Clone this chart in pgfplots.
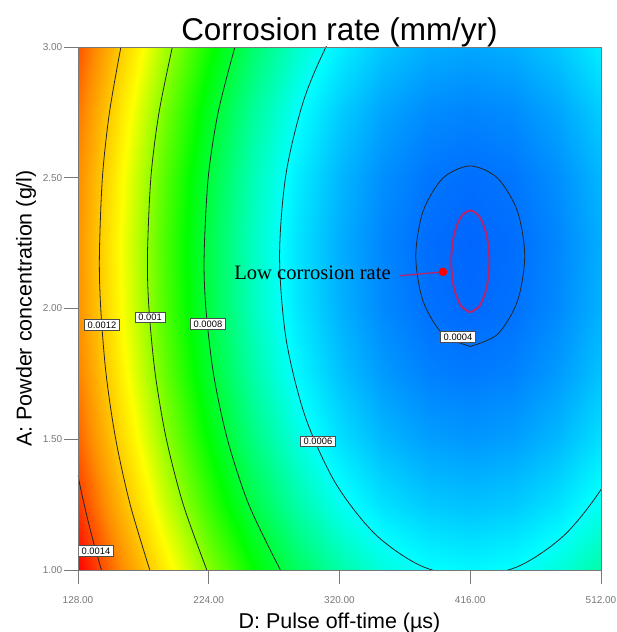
\documentclass[border=0pt]{standalone}
\usepackage{fontspec}
\setmainfont{Liberation Sans}
\newfontfamily\serifont{Liberation Serif}
\usepackage{pgfplots}
\pgfplotsset{compat=1.18}
\usepackage{pgfplotstable}

\definecolor{tickgray}{RGB}{120,120,120}
\definecolor{ringred}{RGB}{185,35,105}

% corrosion rate (mm/yr) on a 13 x 9 grid, read off the colour field and contours
\pgfplotstableread{
x y f
128 1.00 0.0015140
160 1.00 0.0013202
192 1.00 0.0011493
224 1.00 0.0010011
256 1.00 0.0008757
288 1.00 0.0007732
320 1.00 0.0006934
352 1.00 0.0006364
384 1.00 0.0006022
416 1.00 0.0005908
448 1.00 0.0006022
480 1.00 0.0006364
512 1.00 0.0006934
128 1.25 0.0014361
160 1.25 0.0012423
192 1.25 0.0010714
224 1.25 0.0009232
256 1.25 0.0007978
288 1.25 0.0006953
320 1.25 0.0006155
352 1.25 0.0005585
384 1.25 0.0005243
416 1.25 0.0005129
448 1.25 0.0005243
480 1.25 0.0005585
512 1.25 0.0006155
128 1.50 0.0013763
160 1.50 0.0011825
192 1.50 0.0010116
224 1.50 0.0008634
256 1.50 0.0007380
288 1.50 0.0006355
320 1.50 0.0005557
352 1.50 0.0004987
384 1.50 0.0004645
416 1.50 0.0004531
448 1.50 0.0004645
480 1.50 0.0004987
512 1.50 0.0005557
128 1.75 0.0013346
160 1.75 0.0011408
192 1.75 0.0009699
224 1.75 0.0008217
256 1.75 0.0006963
288 1.75 0.0005938
320 1.75 0.0005140
352 1.75 0.0004570
384 1.75 0.0004228
416 1.75 0.0004114
448 1.75 0.0004228
480 1.75 0.0004570
512 1.75 0.0005140
128 2.00 0.0013110
160 2.00 0.0011172
192 2.00 0.0009463
224 2.00 0.0007981
256 2.00 0.0006727
288 2.00 0.0005702
320 2.00 0.0004904
352 2.00 0.0004334
384 2.00 0.0003992
416 2.00 0.0003878
448 2.00 0.0003992
480 2.00 0.0004334
512 2.00 0.0004904
128 2.25 0.0013056
160 2.25 0.0011118
192 2.25 0.0009409
224 2.25 0.0007927
256 2.25 0.0006673
288 2.25 0.0005648
320 2.25 0.0004850
352 2.25 0.0004280
384 2.25 0.0003938
416 2.25 0.0003824
448 2.25 0.0003938
480 2.25 0.0004280
512 2.25 0.0004850
128 2.50 0.0013183
160 2.50 0.0011245
192 2.50 0.0009536
224 2.50 0.0008054
256 2.50 0.0006800
288 2.50 0.0005775
320 2.50 0.0004977
352 2.50 0.0004407
384 2.50 0.0004065
416 2.50 0.0003951
448 2.50 0.0004065
480 2.50 0.0004407
512 2.50 0.0004977
128 2.75 0.0013491
160 2.75 0.0011553
192 2.75 0.0009844
224 2.75 0.0008362
256 2.75 0.0007108
288 2.75 0.0006083
320 2.75 0.0005285
352 2.75 0.0004715
384 2.75 0.0004373
416 2.75 0.0004259
448 2.75 0.0004373
480 2.75 0.0004715
512 2.75 0.0005285
128 3.00 0.0013980
160 3.00 0.0012042
192 3.00 0.0010333
224 3.00 0.0008851
256 3.00 0.0007597
288 3.00 0.0006572
320 3.00 0.0005774
352 3.00 0.0005204
384 3.00 0.0004862
416 3.00 0.0004748
448 3.00 0.0004862
480 3.00 0.0005204
512 3.00 0.0005774
}\corrgrid

\begin{document}
\begin{tikzpicture}
\begin{axis}[
  name=ax,
  width=392.25pt, height=392.25pt, scale only axis,
  xmin=128, xmax=512, ymin=1, ymax=3,
  enlargelimits=false,
  axis on top,
  xtick={128,224,320,416,512},
  xticklabels={128.00,224.00,320.00,416.00,512.00},
  ytick={1,1.5,2,2.5,3},
  yticklabels={1.00,1.50,2.00,2.50,3.00},
  xtick pos=left, ytick pos=left,
  tick align=outside,
  major tick length=10.5pt,
  tick style={tickgray, line width=0.6pt},
  axis line style={tickgray, line width=0.5pt},
  ticklabel style={font=\fontsize{7.5}{9}\selectfont, text=tickgray},
  xticklabel style={yshift=-6pt},
  yticklabel style={xshift=2.25pt},
  colormap={ce}{rgb255(0pt)=(0,100,255); rgb255(220pt)=(0,255,255);
    rgb255(490pt)=(0,255,0); rgb255(740pt)=(255,255,0);
    rgb255(940pt)=(255,140,0); rgb255(1130pt)=(255,0,0)},
  point meta min=0.00038, point meta max=0.00151,
  title={Corrosion rate (mm/yr)},
  title style={at={(0.5,1)}, anchor=base, yshift=-1pt, font=\fontsize{23.6}{28}\selectfont},
  xlabel={D: Pulse off-time (µs)},
  ylabel={A: Powder concentration (g/l)},
  xlabel style={at={(0.5,-0.1013)}, anchor=center, font=\fontsize{16.1}{19}\selectfont},
  ylabel style={at={(-0.0994,0.5)}, anchor=center, font=\fontsize{16.1}{19}\selectfont},
]
\addplot[surf, shader=interp, mesh/cols=13, point meta=explicit] table[x=x, y=y, meta=f] {\corrgrid};

% contour lines
\addplot[black!85, line width=0.6pt, smooth] coordinates {(145.2,1.0) (139.7,1.1) (134.8,1.2) (130.4,1.3) (128,1.362)};
\addplot[black!85, line width=0.6pt, smooth] coordinates {(180.7,1) (166.3,1.25) (155.7,1.5) (148.6,1.75) (144.7,2) (143.7,2.2) (145.9,2.5) (151.1,2.75) (159.5,3)};
\addplot[black!85, line width=0.6pt, smooth] coordinates {(222.6,1) (205.3,1.25) (192.9,1.5) (184.7,1.75) (180.1,2) (179.0,2.2) (181.5,2.5) (187.5,2.75) (197.3,3)};
\addplot[black!85, line width=0.6pt, smooth] coordinates {(276.6,1.0) (253.4,1.25) (237.7,1.5) (227.5,1.75) (221.9,2.0) (220.6,2.2) (223.6,2.5) (230.9,2.75) (243.2,3.0)};
\addplot[black!85, line width=0.6pt, smooth] coordinates {(556,2.2) (551.2,2.517) (537.2,2.813) (515.0,3.067) (486.0,3.262) (452.2,3.384) (416,3.426) (379.8,3.384) (346.0,3.262) (317.0,3.067) (294.8,2.813) (280.8,2.517) (276.0,2.2) (280.8,1.883) (294.8,1.587) (317.0,1.333) (346.0,1.138) (379.8,1.016) (416,0.974) (452.2,1.016) (486.0,1.138) (515.0,1.333) (537.2,1.587) (551.2,1.883) (556,2.2)};
\addplot[black!85, line width=0.6pt, smooth] coordinates {(416,1.855) (436,1.9012) (450.6,2.0275) (456,2.2) (450.6,2.3725) (436,2.4988) (416,2.545) (396,2.4988) (381.4,2.3725) (376,2.2) (381.4,2.0275) (396,1.9012) (416,1.855)};

% marked low-corrosion region
\addplot[ringred, line width=1.4pt, smooth] coordinates {(416,1.985) (423,2.0111) (428.12,2.0825) (430,2.18) (428.12,2.2775) (423,2.3489) (416,2.375) (409,2.3489) (403.88,2.2775) (402,2.18) (403.88,2.0825) (409,2.0111) (416,1.985)};
\addplot[ringred, line width=1pt] coordinates {(364,2.125) (396,2.14)};
\addplot[only marks, mark=*, mark size=3pt, red] coordinates {(396,2.14)};
\node[anchor=base east, font=\serifont\fontsize{15.4}{18}\selectfont] at (axis cs:361,2.109) {Low corrosion rate};

% contour labels
\tikzset{clab/.style={draw=black!70, fill=white, line width=0.4pt, inner xsep=2.5pt, inner ysep=1.5pt, font=\fontsize{7}{8}\selectfont}}
\node[clab] at (axis cs:141.2,1.073) {0.0014};
\node[clab] at (axis cs:145.6,1.937) {0.0012};
\node[clab] at (axis cs:180.9,1.967) {0.001};
\node[clab] at (axis cs:223.4,1.941) {0.0008};
\node[clab] at (axis cs:304.2,1.493) {0.0006};
\node[clab] at (axis cs:407.0,1.891) {0.0004};
\end{axis}
\pgfresetboundingbox
\path ([shift={(-58.5pt,-46.5pt)}]ax.south west) rectangle ([shift={(12pt,35.25pt)}]ax.north east);
\end{tikzpicture}
\end{document}
